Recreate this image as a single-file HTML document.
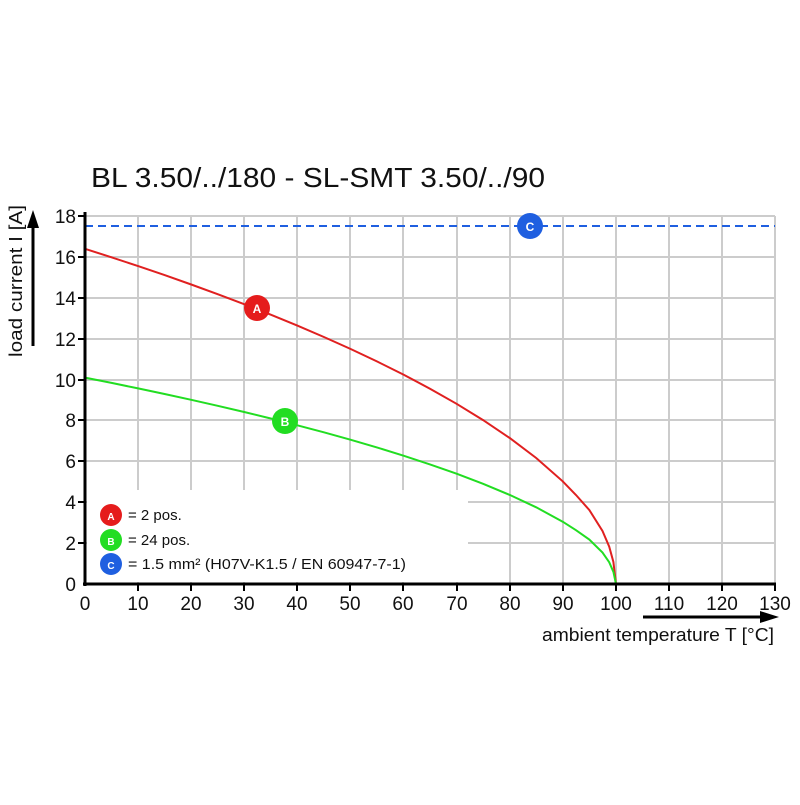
<!DOCTYPE html>
<html><head><style>body{margin:0;background:#fff}</style></head><body>
<svg width="800" height="800" xmlns="http://www.w3.org/2000/svg" font-family="Liberation Sans, sans-serif">
<rect width="800" height="800" fill="#fff"/>
<text x="91" y="187" font-size="28" fill="#111" textLength="454" lengthAdjust="spacingAndGlyphs">BL 3.50/../180 - SL-SMT 3.50/../90</text>
<g stroke="#cccccc" stroke-width="2">
<line x1="85" y1="216" x2="775" y2="216"/><line x1="85" y1="257" x2="775" y2="257"/><line x1="85" y1="298" x2="775" y2="298"/><line x1="85" y1="339" x2="775" y2="339"/><line x1="85" y1="380" x2="775" y2="380"/><line x1="85" y1="420" x2="775" y2="420"/><line x1="85" y1="461" x2="775" y2="461"/><line x1="85" y1="502" x2="775" y2="502"/><line x1="85" y1="543" x2="775" y2="543"/>
<line x1="138" y1="216" x2="138" y2="584"/><line x1="191" y1="216" x2="191" y2="584"/><line x1="244" y1="216" x2="244" y2="584"/><line x1="297" y1="216" x2="297" y2="584"/><line x1="350" y1="216" x2="350" y2="584"/><line x1="403" y1="216" x2="403" y2="584"/><line x1="457" y1="216" x2="457" y2="584"/><line x1="510" y1="216" x2="510" y2="584"/><line x1="563" y1="216" x2="563" y2="584"/><line x1="616" y1="216" x2="616" y2="584"/><line x1="669" y1="216" x2="669" y2="584"/><line x1="722" y1="216" x2="722" y2="584"/><line x1="775" y1="216" x2="775" y2="584"/>
</g>
<rect x="87" y="490" width="381" height="92" fill="#fff"/>
<line x1="85" y1="226" x2="775" y2="226" stroke="#1f5fe0" stroke-width="2" stroke-dasharray="8,5"/>
<polyline fill="none" stroke="#e02020" stroke-width="2" points="85,248.8 111.5,257.3 138.1,266.1 164.6,275.1 191.2,284.5 217.7,294.2 244.2,304.2 270.8,314.7 297.3,325.6 323.9,337.0 350.4,348.9 376.9,361.4 403.5,374.6 430,388.7 456.6,403.8 483.1,420.1 509.7,438.0 536.2,458.0 562.7,481.3 576,495 589.3,510.0 602.5,531.0 609.2,546.6 613.4,562 616,584"/>
<polyline fill="none" stroke="#22dd22" stroke-width="2" points="85,377.6 111.5,382.9 138.1,388.4 164.6,394.0 191.2,399.8 217.7,405.8 244.2,412.0 270.8,418.5 297.3,425.3 323.9,432.3 350.4,439.7 376.9,447.4 403.5,455.7 430,464.4 456.6,473.7 483.1,483.8 509.7,494.9 536.2,507.3 562.7,521.7 576,530.2 589.3,539.5 602.5,552.5 609.2,562.2 613.4,571.8 616,584"/>
<g stroke="#000" stroke-width="3"><line x1="85" y1="212" x2="85" y2="586"/><line x1="83" y1="584" x2="776" y2="584"/></g>
<g stroke="#000" stroke-width="2">
<line x1="78" y1="216" x2="85" y2="216"/><line x1="78" y1="257" x2="85" y2="257"/><line x1="78" y1="298" x2="85" y2="298"/><line x1="78" y1="339" x2="85" y2="339"/><line x1="78" y1="380" x2="85" y2="380"/><line x1="78" y1="420" x2="85" y2="420"/><line x1="78" y1="461" x2="85" y2="461"/><line x1="78" y1="502" x2="85" y2="502"/><line x1="78" y1="543" x2="85" y2="543"/>
<line x1="138" y1="584" x2="138" y2="591"/><line x1="191" y1="584" x2="191" y2="591"/><line x1="244" y1="584" x2="244" y2="591"/><line x1="297" y1="584" x2="297" y2="591"/><line x1="350" y1="584" x2="350" y2="591"/><line x1="403" y1="584" x2="403" y2="591"/><line x1="457" y1="584" x2="457" y2="591"/><line x1="510" y1="584" x2="510" y2="591"/><line x1="563" y1="584" x2="563" y2="591"/><line x1="616" y1="584" x2="616" y2="591"/><line x1="669" y1="584" x2="669" y2="591"/><line x1="722" y1="584" x2="722" y2="591"/><line x1="775" y1="584" x2="775" y2="591"/>
</g>
<g font-size="19" fill="#111" text-anchor="end">
<text x="76" y="223">18</text><text x="76" y="264">16</text><text x="76" y="305">14</text><text x="76" y="346">12</text><text x="76" y="387">10</text><text x="76" y="427">8</text><text x="76" y="468">6</text><text x="76" y="509">4</text><text x="76" y="550">2</text><text x="76" y="591">0</text>
</g>
<g font-size="19" fill="#111" text-anchor="middle">
<text x="85" y="610">0</text><text x="138" y="610">10</text><text x="191" y="610">20</text><text x="244" y="610">30</text><text x="297" y="610">40</text><text x="350" y="610">50</text><text x="403" y="610">60</text><text x="457" y="610">70</text><text x="510" y="610">80</text><text x="563" y="610">90</text><text x="616" y="610">100</text><text x="669" y="610">110</text><text x="722" y="610">120</text><text x="775" y="610">130</text>
</g>
<line x1="33" y1="346" x2="33" y2="225" stroke="#000" stroke-width="3"/><polygon points="33,210 27,228 39,228" fill="#000"/>
<text transform="translate(22,357) rotate(-90)" font-size="18" fill="#111" textLength="152" lengthAdjust="spacingAndGlyphs">load current I [A]</text>
<line x1="643" y1="617" x2="762" y2="617" stroke="#000" stroke-width="3"/><polygon points="779,617 760,611 760,623" fill="#000"/>
<text x="542" y="641" font-size="18" fill="#111" textLength="232" lengthAdjust="spacingAndGlyphs">ambient temperature T [°C]</text>
<g font-size="12" font-weight="bold" fill="#fff" text-anchor="middle">
<circle cx="257" cy="308" r="13" fill="#e51c1c"/><text x="257" y="313">A</text>
<circle cx="285" cy="421" r="13" fill="#22dd22"/><text x="285" y="426">B</text>
<circle cx="530" cy="226" r="13" fill="#1f5fe0"/><text x="530" y="231">C</text>
<circle cx="111" cy="515" r="11" fill="#e51c1c"/><text x="111" y="520" font-size="10">A</text>
<circle cx="111" cy="540" r="11" fill="#22dd22"/><text x="111" y="545" font-size="10">B</text>
<circle cx="111" cy="564" r="11" fill="#1f5fe0"/><text x="111" y="569" font-size="10">C</text>
</g>
<g font-size="15" fill="#111">
<text x="128" y="520">= 2 pos.</text><text x="128" y="545">= 24 pos.</text><text x="128" y="569" textLength="278" lengthAdjust="spacingAndGlyphs">= 1.5 mm² (H07V-K1.5 / EN 60947-7-1)</text>
</g>
</svg>
</body></html>
